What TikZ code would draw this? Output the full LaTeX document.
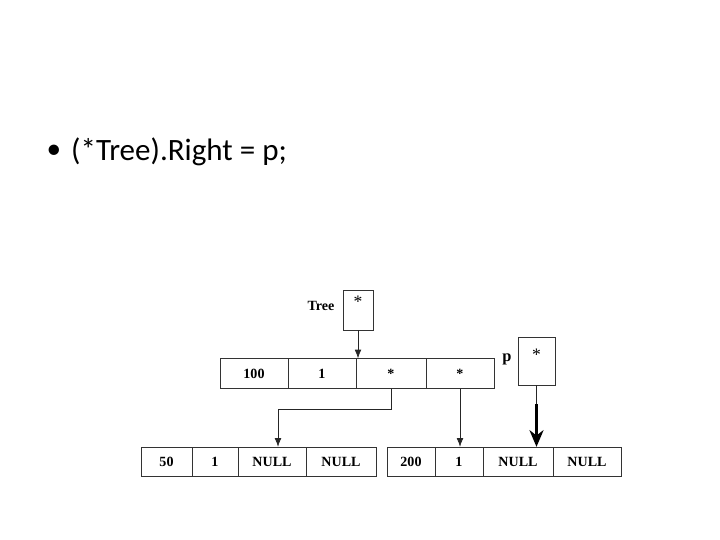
\documentclass[tikz,border=0pt]{standalone}
\usepackage{fontspec}
\setmainfont{Liberation Serif}
\newfontfamily\slidefont{Carlito}
\usetikzlibrary{arrows.meta,positioning}

\begin{document}
\begin{tikzpicture}[x=0.03cm, y=-0.03cm,
    cell/.style={rectangle, draw=black!80, thick, inner sep=0pt, minimum height=0.88cm, font=\fontsize{12}{14}\selectfont\bfseries},
    ptr/.style={rectangle, draw=black!80, thick, inner sep=0pt, font=\fontsize{15}{17}\selectfont},
    lbl/.style={font=\fontsize{12}{14}\selectfont\bfseries},
    link/.style={draw=black!85, semithick, -{Latex[length=2.6mm,width=2mm]}},
    fat/.style={draw=black, line width=2.6pt, -{Stealth[length=5mm,width=4.2mm,inset=1.6mm]}}
]
\useasboundingbox (0,0) rectangle (720,540);

% Slide text
\node[font=\slidefont\fontsize{25}{30}\selectfont] (dot) at (54,152) {\textbullet};
\node[anchor=base west, inner sep=0pt, font=\slidefont\fontsize{26.5}{30}\selectfont] (stmt) at (71,161) {(*Tree).Right = p;};

% Pointer Tree
\node[lbl] (treelbl) at (321,306) {Tree};
\node[ptr, minimum width=0.9cm, text height=0.52cm, text depth=0.68cm] (tree) at (358,310) {*};

% Root node
\node[cell, minimum width=2.04cm] (r1) at (254,373.5) {100};
\node[cell, minimum width=2.04cm] (r2) at (322,373.5) {1};
\node[cell, minimum width=2.1cm] (r3) at (391,373.5) {*};
\node[cell, minimum width=2.04cm] (r4) at (460,373.5) {*};

% Pointer p
\node[lbl, font=\fontsize{14}{16}\selectfont\bfseries] (plbl) at (507,359) {p};
\node[ptr, minimum width=1.11cm, text height=0.7cm, text depth=0.74cm] (pbox) at (536.5,361) {*};

% Left child
\node[cell, minimum width=1.53cm] (a1) at (166.5,462) {50};
\node[cell, minimum width=1.38cm] (a2) at (215,462) {1};
\node[cell, minimum width=2.04cm] (a3) at (272,462) {NULL};
\node[cell, minimum width=2.1cm] (a4) at (341,462) {NULL};

% Right child
\node[cell, minimum width=1.44cm] (b1) at (411,462) {200};
\node[cell, minimum width=1.44cm] (b2) at (459,462) {1};
\node[cell, minimum width=2.1cm] (b3) at (518,462) {NULL};
\node[cell, minimum width=2.04cm] (b4) at (587,462) {NULL};

% Links
\draw[link] (tree.south) -- (tree.south |- r2.north);
\draw[link] (r3.south) -- ++(0,21) -| ([xshift=0.18cm]a3.north);
\draw[link] (r4.south) -- (r4.south |- b2.north);
\draw[draw=black!85, semithick] (pbox.south) -- ++(0,19) coordinate (pmid);
\draw[fat] (pmid) -- (pmid |- b3.north);

\end{tikzpicture}
\end{document}
